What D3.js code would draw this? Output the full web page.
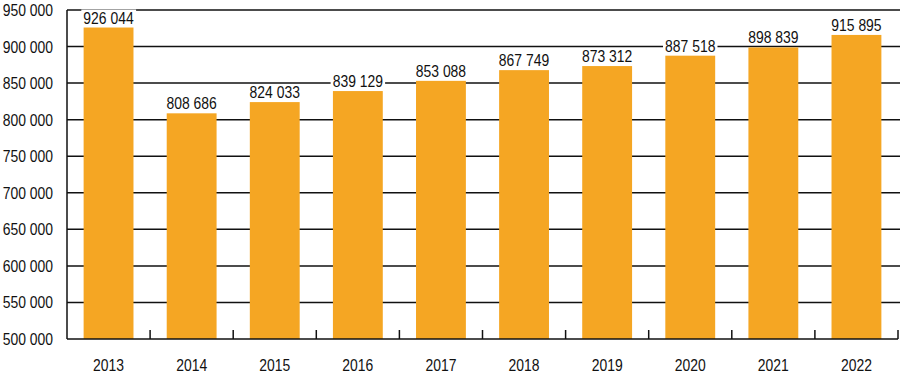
<!DOCTYPE html>
<html>
<head>
    <script src="https://d3js.org/d3.v7.min.js"></script>
    <style>
        body { margin: 0; background: #fff; }
        text { font-family: "Liberation Sans", Arial, sans-serif; font-size: 17px; fill: #111; }
    </style>
</head>
<body>
    <svg width="900" height="375"></svg>
    <script>
        const years = ["2013", "2014", "2015", "2016", "2017", "2018", "2019", "2020", "2021", "2022"];
        const values = [926044, 808686, 824033, 839129, 853088, 867749, 873312, 887518, 898839, 915895];
        const yTicks = [500000, 550000, 600000, 650000, 700000, 750000, 800000, 850000, 900000, 950000];

        const mLeft = 67, mRight = 898, mTop = 10, mBottom = 339;
        const narrow = 0.82; // no condensed font installed, squeeze horizontally
        const svg = d3.select("svg");
        const fmt = v => d3.format(",")(v).replace(/,/g, " ");

        const x = d3.scaleBand().domain(years).range([mLeft, mRight]).paddingInner(0.4).paddingOuter(0.2);
        const y = d3.scaleLinear().domain([500000, 950000]).range([mBottom, mTop]);

        // gridlines
        svg.append("g").selectAll("line")
            .data(yTicks.slice(1))
            .enter().append("line")
            .attr("x1", mLeft).attr("x2", 900)
            .attr("y1", d => y(d)).attr("y2", d => y(d))
            .attr("stroke", "#111").attr("stroke-width", 1.5);

        // bars
        svg.append("g").selectAll("rect")
            .data(values)
            .enter().append("rect")
            .attr("x", (d, i) => x(years[i]))
            .attr("y", d => y(d))
            .attr("width", x.bandwidth())
            .attr("height", d => mBottom - y(d))
            .attr("fill", "#F5A623");

        // y axis labels
        svg.append("g").selectAll("g")
            .data(yTicks)
            .enter().append("g")
            .attr("transform", d => `translate(53,${y(d)}) scale(${narrow},1)`)
            .append("text")
            .attr("dy", "0.35em")
            .attr("text-anchor", "end")
            .text(fmt);

        // axis lines
        svg.append("line").attr("x1", mLeft).attr("x2", mLeft).attr("y1", mTop).attr("y2", mBottom)
            .attr("stroke", "#111").attr("stroke-width", 1.5);
        svg.append("line").attr("x1", mLeft).attr("x2", mRight).attr("y1", mBottom).attr("y2", mBottom)
            .attr("stroke", "#111").attr("stroke-width", 1.5);

        // x ticks at band boundaries
        const step = x.step();
        svg.append("g").selectAll("line")
            .data(years)
            .enter().append("line")
            .attr("x1", (d, i) => mLeft + step * (i + 1))
            .attr("x2", (d, i) => mLeft + step * (i + 1))
            .attr("y1", mBottom).attr("y2", mBottom - 9)
            .attr("stroke", "#111").attr("stroke-width", 1.5);

        // x labels
        svg.append("g").selectAll("g")
            .data(years)
            .enter().append("g")
            .attr("transform", d => `translate(${x(d) + x.bandwidth() / 2},371) scale(${narrow},1)`)
            .append("text")
            .attr("text-anchor", "middle")
            .text(d => d);

        // value labels with white background
        const lab = svg.append("g").selectAll("g")
            .data(values)
            .enter().append("g")
            .attr("transform", (d, i) => `translate(${x(years[i]) + x.bandwidth() / 2},${y(d) - 4}) scale(${narrow},1)`);
        lab.append("text")
            .attr("text-anchor", "middle")
            .text(fmt)
            .each(function () {
                const b = this.getBBox();
                d3.select(this.parentNode).insert("rect", "text")
                    .attr("x", b.x - 2.5).attr("y", -14)
                    .attr("width", b.width + 5).attr("height", 15.5)
                    .attr("fill", "#fff");
            });
    </script>
</body>
</html>
